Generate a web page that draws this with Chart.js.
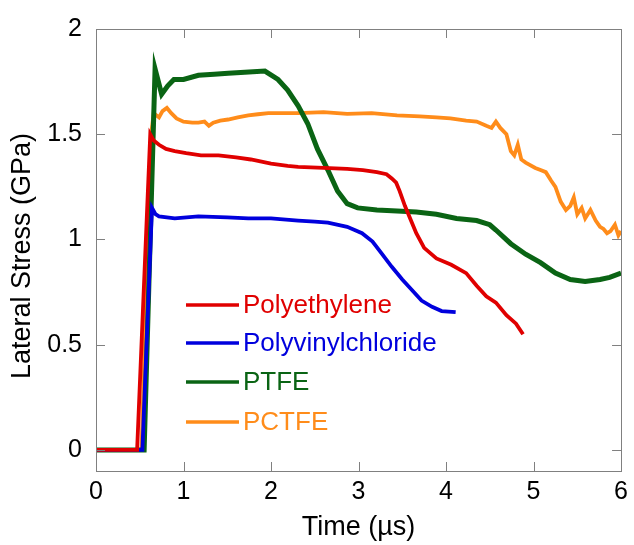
<!DOCTYPE html>
<html>
<head>
<meta charset="utf-8">
<script src="https://cdn.jsdelivr.net/npm/chart.js@4"></script>
<style>
  html, body { margin: 0; padding: 0; background: #fff; }
  #wrap { width: 634px; height: 545px; }
</style>
</head>
<body>
<div id="wrap"><canvas id="stress-chart"></canvas></div>
<script>
// Time in microseconds, lateral stress in GPa
const peTime = [0, 0.47, 0.62, 0.66, 0.72, 0.80, 0.90, 1.03, 1.20, 1.40, 1.60, 1.77, 2.00, 2.19, 2.31, 2.60, 2.87, 3.05, 3.21, 3.32, 3.38, 3.43, 3.47, 3.53, 3.59, 3.66, 3.75, 3.89, 4.06, 4.23, 4.35, 4.46, 4.57, 4.69, 4.80, 4.88];
const peStress = [0, 0, 1.50, 1.47, 1.45, 1.43, 1.42, 1.41, 1.40, 1.40, 1.39, 1.38, 1.36, 1.35, 1.345, 1.34, 1.335, 1.33, 1.32, 1.31, 1.29, 1.27, 1.23, 1.16, 1.10, 1.03, 0.96, 0.91, 0.88, 0.84, 0.78, 0.73, 0.70, 0.64, 0.60, 0.55];

const pvcTime = [0, 0.53, 0.64, 0.68, 0.72, 0.90, 1.17, 1.50, 1.74, 2.00, 2.31, 2.50, 2.65, 2.87, 3.04, 3.16, 3.27, 3.38, 3.50, 3.61, 3.72, 3.84, 3.95, 4.11];
const pvcStress = [0, 0, 1.15, 1.12, 1.11, 1.10, 1.11, 1.105, 1.10, 1.10, 1.09, 1.085, 1.08, 1.06, 1.03, 0.99, 0.93, 0.87, 0.81, 0.76, 0.71, 0.68, 0.66, 0.655];

const ptfeTime = [0, 0.55, 0.675, 0.75, 0.82, 0.89, 1.00, 1.17, 1.35, 1.51, 1.70, 1.93, 2.08, 2.19, 2.31, 2.42, 2.53, 2.65, 2.76, 2.87, 2.99, 3.21, 3.44, 3.66, 3.89, 4.12, 4.35, 4.50, 4.57, 4.74, 4.91, 5.08, 5.25, 5.42, 5.59, 5.76, 5.87, 6.00];
const ptfeStress = [0, 0, 1.81, 1.69, 1.73, 1.76, 1.76, 1.78, 1.785, 1.79, 1.795, 1.80, 1.76, 1.71, 1.635, 1.55, 1.43, 1.33, 1.23, 1.17, 1.15, 1.14, 1.135, 1.13, 1.12, 1.10, 1.09, 1.07, 1.045, 0.98, 0.93, 0.89, 0.84, 0.81, 0.80, 0.81, 0.82, 0.84];

const pctfeTime = [0, 0.52, 0.63, 0.66, 0.72, 0.76, 0.81, 0.86, 0.92, 1.00, 1.10, 1.17, 1.24, 1.29, 1.34, 1.42, 1.51, 1.62, 1.74, 1.85, 1.97, 2.15, 2.31, 2.60, 2.87, 3.15, 3.44, 3.70, 3.89, 4.05, 4.23, 4.35, 4.46, 4.52, 4.57, 4.62, 4.69, 4.74, 4.78, 4.82, 4.86, 4.91, 5.02, 5.08, 5.14, 5.20, 5.25, 5.31, 5.37, 5.42, 5.46, 5.50, 5.55, 5.59, 5.65, 5.71, 5.76, 5.80, 5.84, 5.88, 5.93, 5.97, 6.00];
const pctfeStress = [0, 0, 1.50, 1.60, 1.58, 1.61, 1.625, 1.60, 1.575, 1.56, 1.555, 1.555, 1.56, 1.54, 1.555, 1.565, 1.57, 1.58, 1.59, 1.595, 1.60, 1.60, 1.60, 1.605, 1.597, 1.60, 1.59, 1.585, 1.58, 1.575, 1.565, 1.56, 1.54, 1.53, 1.56, 1.53, 1.50, 1.42, 1.40, 1.45, 1.38, 1.365, 1.34, 1.33, 1.32, 1.28, 1.25, 1.18, 1.14, 1.16, 1.20, 1.12, 1.15, 1.10, 1.14, 1.09, 1.06, 1.05, 1.03, 1.04, 1.07, 1.02, 1.04];

const seriesNames = ['Polyethylene', 'Polyvinylchloride', 'PTFE', 'PCTFE'];
const seriesColors = ['#e00000', '#0000dd', '#0a6414', '#ff8c1a'];

const xTicks = [0, 1, 2, 3, 4, 5, 6];
const yTicks = [0, 0.5, 1, 1.5, 2];

const FONT = '"Liberation Sans", Arial, sans-serif';

function toPoints(xs, ys) {
  return xs.map((x, i) => ({ x: x, y: ys[i] }));
}

const allSeries = [
  toPoints(peTime, peStress),
  toPoints(pvcTime, pvcStress),
  toPoints(ptfeTime, ptfeStress),
  toPoints(pctfeTime, pctfeStress)
];

// frame, inward ticks on all four sides, axis titles and the legend
const framePlugin = {
  id: 'frame',
  afterDraw(chart) {
    const { ctx, chartArea: a, scales } = chart;
    const tl = 9;
    ctx.save();
    ctx.strokeStyle = '#808080';
    ctx.lineWidth = 1;
    ctx.strokeRect(Math.round(a.left) + 0.5, Math.round(a.top) + 0.5,
      Math.round(a.right - a.left), Math.round(a.bottom - a.top));
    ctx.beginPath();
    xTicks.forEach(v => {
      const px = Math.round(scales.x.getPixelForValue(v)) + 0.5;
      ctx.moveTo(px, a.bottom); ctx.lineTo(px, a.bottom - tl);
      ctx.moveTo(px, a.top); ctx.lineTo(px, a.top + tl);
    });
    yTicks.forEach(v => {
      const py = Math.round(scales.y.getPixelForValue(v)) + 0.5;
      ctx.moveTo(a.left, py); ctx.lineTo(a.left + tl, py);
      ctx.moveTo(a.right, py); ctx.lineTo(a.right - tl, py);
    });
    ctx.stroke();

    // axis titles
    ctx.fillStyle = '#000';
    ctx.textAlign = 'center';
    ctx.textBaseline = 'middle';
    ctx.font = '27px ' + FONT;
    ctx.fillText('Time (µs)', (a.left + a.right) / 2, 528);
    ctx.save();
    ctx.translate(23, 256);
    ctx.rotate(-Math.PI / 2);
    ctx.font = '27px ' + FONT;
    ctx.fillText('Lateral Stress (GPa)', 0, 0);
    ctx.restore();

    // legend inside the plot
    ctx.font = '26px ' + FONT;
    ctx.textAlign = 'left';
    const lx = a.left + 90;
    const rows = [305, 343, 382, 422];
    seriesNames.forEach((name, i) => {
      ctx.strokeStyle = seriesColors[i];
      ctx.lineWidth = 3.5;
      ctx.beginPath();
      ctx.moveTo(lx, rows[i]);
      ctx.lineTo(lx + 53, rows[i]);
      ctx.stroke();
      ctx.fillStyle = seriesColors[i];
      ctx.fillText(name, lx + 57, rows[i] + 1);
    });
    ctx.restore();
  }
};

const chart = new Chart(document.getElementById('stress-chart'), {
  type: 'line',
  data: {
    datasets: allSeries.map((pts, i) => ({
      label: seriesNames[i],
      data: pts,
      borderColor: seriesColors[i],
      backgroundColor: seriesColors[i],
      borderWidth: i === 2 ? 5 : 3.8,
      pointRadius: 0,
      tension: 0,
      fill: false
    }))
  },
  options: {
    responsive: true,
    maintainAspectRatio: false,
    animation: false,
    events: [],
    layout: { padding: { top: 28, right: 8, left: 0, bottom: 0 } },
    plugins: {
      legend: { display: false },
      tooltip: { enabled: false }
    },
    scales: {
      x: {
        type: 'linear',
        min: 0,
        max: 6,
        afterFit(scale) { scale.height = 74; },
        afterBuildTicks(scale) { scale.ticks = xTicks.map(v => ({ value: v })); },
        grid: { display: false, drawTicks: false },
        border: { display: false },
        ticks: {
          padding: 6,
          color: '#000',
          font: { family: FONT, size: 25 },
          callback: v => String(v)
        }
      },
      y: {
        type: 'linear',
        min: -0.1,
        max: 2,
        afterFit(scale) { scale.width = 96; },
        afterBuildTicks(scale) { scale.ticks = yTicks.map(v => ({ value: v })); },
        grid: { display: false, drawTicks: false },
        border: { display: false },
        ticks: {
          padding: 14,
          color: '#000',
          font: { family: FONT, size: 25 },
          callback: v => String(v)
        }
      }
    }
  },
  plugins: [framePlugin]
});
</script>
</body>
</html>
